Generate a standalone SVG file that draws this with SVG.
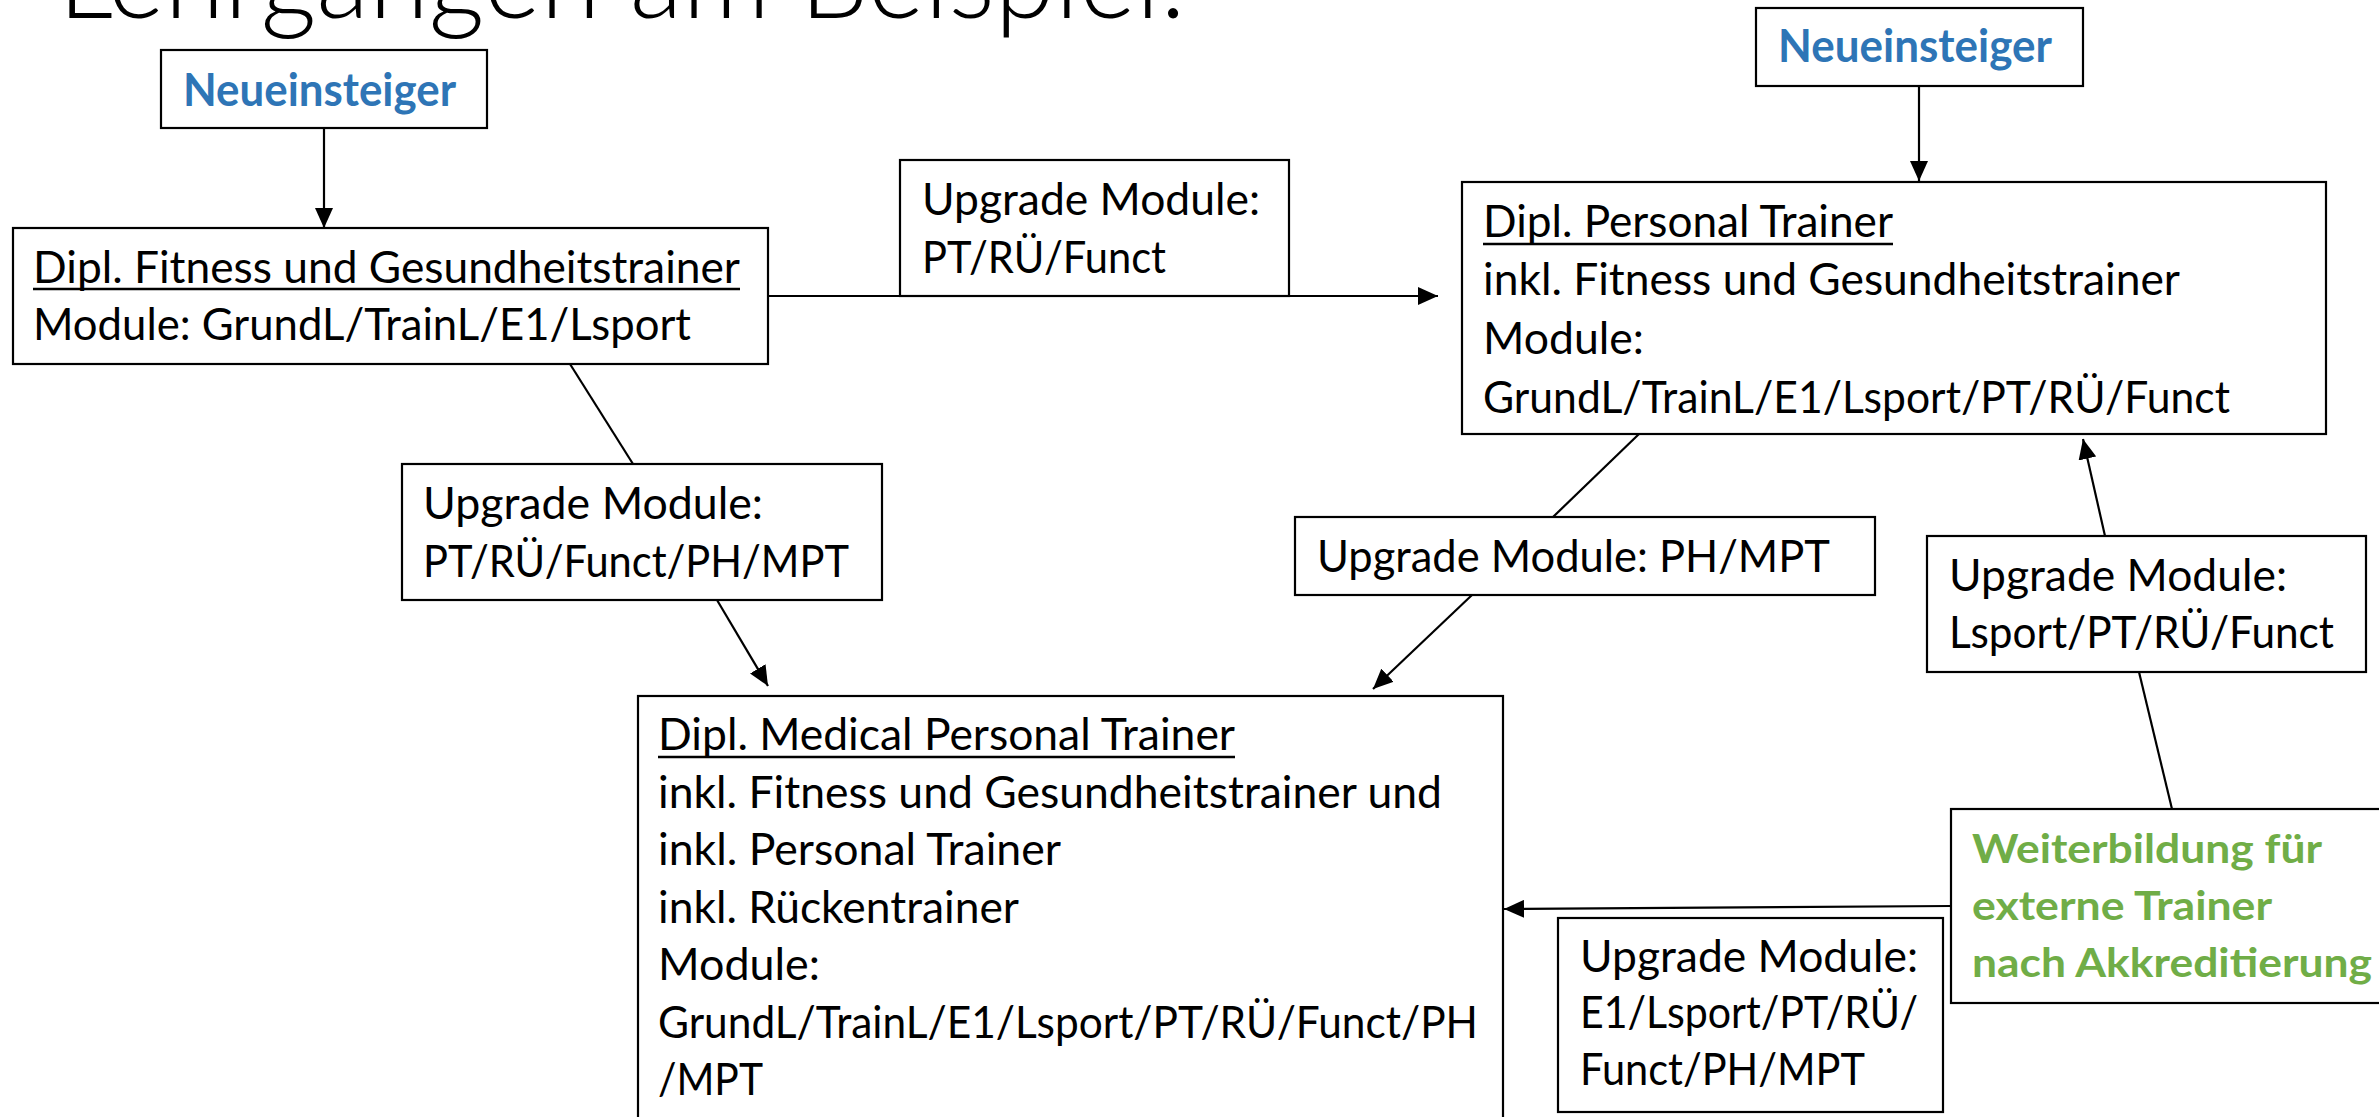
<svg xmlns="http://www.w3.org/2000/svg" width="2379" height="1117" viewBox="0 0 2379 1117">
<style>
.box{fill:#fff;stroke:#000;stroke-width:2.2}
.t{font-family:Lato,"Open Sans","Liberation Sans",sans-serif;font-size:44px;fill:#000}
.nb{font-family:Lato,"Open Sans","Liberation Sans",sans-serif;font-size:45px;font-weight:700;fill:#2E75B6}
.gb{font-family:Lato,"Open Sans","Liberation Sans",sans-serif;font-size:40px;font-weight:700;fill:#70AD47}
.title{font-family:Lato,"Open Sans","Liberation Sans",sans-serif;font-size:112px;font-weight:300;fill:#000}
.ul{stroke:#000;stroke-width:2.6}
.c{stroke:#000;stroke-width:2.2;fill:none}
</style>
<defs>
<marker id="ah" markerUnits="userSpaceOnUse" markerWidth="20" markerHeight="18" viewBox="0 0 20 18" refX="20" refY="9" orient="auto">
<path d="M0,0 L20,9 L0,18 Z" fill="#000"/>
</marker>
</defs>
<rect width="2379" height="1117" fill="#fff"/>
<text class="title" x="58" y="18" textLength="1128" lengthAdjust="spacingAndGlyphs">Lehrgängen am Beispiel:</text>

<g id="connectors">
<line class="c" x1="324" y1="129" x2="324" y2="228" marker-end="url(#ah)"/>
<line class="c" x1="1919" y1="87" x2="1919" y2="181" marker-end="url(#ah)"/>
<line class="c" x1="768" y1="296" x2="1438" y2="296" marker-end="url(#ah)"/>
<line class="c" x1="570" y1="364" x2="633" y2="464"/>
<line class="c" x1="717" y1="600" x2="768" y2="686" marker-end="url(#ah)"/>
<line class="c" x1="1639" y1="434" x2="1553" y2="517"/>
<line class="c" x1="1472" y1="595" x2="1373" y2="689" marker-end="url(#ah)"/>
<line class="c" x1="2105" y1="536" x2="2083" y2="439" marker-end="url(#ah)"/>
<line class="c" x1="2172" y1="809" x2="2139" y2="672"/>
<line class="c" x1="1951" y1="906" x2="1504" y2="909" marker-end="url(#ah)"/>
</g>

<g id="neueinsteiger1">
<rect class="box" x="161" y="50" width="326" height="78"/>
<text class="nb" x="183" y="106" textLength="273" lengthAdjust="spacingAndGlyphs">Neueinsteiger</text>
</g>

<g id="neueinsteiger2">
<rect class="box" x="1756" y="8" width="327" height="78"/>
<text class="nb" x="1778" y="62" textLength="274" lengthAdjust="spacingAndGlyphs">Neueinsteiger</text>
</g>

<g id="fitness">
<rect class="box" x="13" y="228" width="755" height="136"/>
<text class="t" x="33" y="283" textLength="707" lengthAdjust="spacingAndGlyphs">Dipl. Fitness und Gesundheitstrainer</text>
<line class="ul" x1="33" y1="289" x2="740" y2="289"/>
<text class="t" x="33" y="340" textLength="658" lengthAdjust="spacingAndGlyphs">Module: GrundL/TrainL/E1/Lsport</text>
</g>

<g id="upgrade-pt">
<rect class="box" x="900" y="160" width="389" height="136"/>
<text class="t" x="922" y="215" textLength="338" lengthAdjust="spacingAndGlyphs">Upgrade Module:</text>
<text class="t" x="922" y="273" textLength="244" lengthAdjust="spacingAndGlyphs">PT/RÜ/Funct</text>
</g>

<g id="personal-trainer">
<rect class="box" x="1462" y="182" width="864" height="252"/>
<text class="t" x="1483" y="237" textLength="410" lengthAdjust="spacingAndGlyphs">Dipl. Personal Trainer</text>
<line class="ul" x1="1483" y1="244" x2="1893" y2="244"/>
<text class="t" x="1483" y="295" textLength="697" lengthAdjust="spacingAndGlyphs">inkl. Fitness und Gesundheitstrainer</text>
<text class="t" x="1483" y="354" textLength="161" lengthAdjust="spacingAndGlyphs">Module:</text>
<text class="t" x="1483" y="413" textLength="747" lengthAdjust="spacingAndGlyphs">GrundL/TrainL/E1/Lsport/PT/RÜ/Funct</text>
</g>

<g id="upgrade-mpt">
<rect class="box" x="402" y="464" width="480" height="136"/>
<text class="t" x="423" y="519" textLength="340" lengthAdjust="spacingAndGlyphs">Upgrade Module:</text>
<text class="t" x="423" y="577" textLength="426" lengthAdjust="spacingAndGlyphs">PT/RÜ/Funct/PH/MPT</text>
</g>

<g id="upgrade-ph">
<rect class="box" x="1295" y="517" width="580" height="78"/>
<text class="t" x="1317" y="572" textLength="513" lengthAdjust="spacingAndGlyphs">Upgrade Module: PH/MPT</text>
</g>

<g id="upgrade-lsport">
<rect class="box" x="1927" y="536" width="439" height="136"/>
<text class="t" x="1949" y="591" textLength="338" lengthAdjust="spacingAndGlyphs">Upgrade Module:</text>
<text class="t" x="1949" y="648" textLength="385" lengthAdjust="spacingAndGlyphs">Lsport/PT/RÜ/Funct</text>
</g>

<g id="medical-personal-trainer">
<rect class="box" x="638" y="696" width="865" height="430"/>
<text class="t" x="658" y="750" textLength="577" lengthAdjust="spacingAndGlyphs">Dipl. Medical Personal Trainer</text>
<line class="ul" x1="658" y1="757" x2="1235" y2="757"/>
<text class="t" x="658" y="808" textLength="784" lengthAdjust="spacingAndGlyphs">inkl. Fitness und Gesundheitstrainer und</text>
<text class="t" x="658" y="865" textLength="403" lengthAdjust="spacingAndGlyphs">inkl. Personal Trainer</text>
<text class="t" x="658" y="923" textLength="361" lengthAdjust="spacingAndGlyphs">inkl. Rückentrainer</text>
<text class="t" x="658" y="980" textLength="162" lengthAdjust="spacingAndGlyphs">Module:</text>
<text class="t" x="658" y="1038" textLength="820" lengthAdjust="spacingAndGlyphs">GrundL/TrainL/E1/Lsport/PT/RÜ/Funct/PH</text>
<text class="t" x="658" y="1095" textLength="105" lengthAdjust="spacingAndGlyphs">/MPT</text>
</g>

<g id="weiterbildung">
<rect class="box" x="1951" y="809" width="440" height="194"/>
<text class="gb" x="1972" y="863" textLength="350" lengthAdjust="spacingAndGlyphs">Weiterbildung für</text>
<text class="gb" x="1972" y="920" textLength="300" lengthAdjust="spacingAndGlyphs">externe Trainer</text>
<text class="gb" x="1972" y="977" textLength="400" lengthAdjust="spacingAndGlyphs">nach Akkreditierung</text>
</g>

<g id="upgrade-e1">
<rect class="box" x="1558" y="918" width="385" height="194"/>
<text class="t" x="1580" y="972" textLength="338" lengthAdjust="spacingAndGlyphs">Upgrade Module:</text>
<text class="t" x="1580" y="1028" textLength="338" lengthAdjust="spacingAndGlyphs">E1/Lsport/PT/RÜ/</text>
<text class="t" x="1580" y="1085" textLength="285" lengthAdjust="spacingAndGlyphs">Funct/PH/MPT</text>
</g>
</svg>
